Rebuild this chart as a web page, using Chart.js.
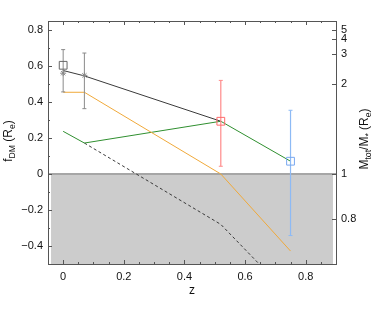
<!DOCTYPE html>
<html>
<head>
<meta charset="utf-8">
<script src="https://cdn.jsdelivr.net/npm/chart.js@4.4.1/dist/chart.umd.min.js"></script>
<style>
  body { margin: 0; background: #fff; }
  canvas { display: block; }
</style>
</head>
<body>
<canvas id="chart" width="374" height="318"></canvas>
<script>
// model tracks, f_DM(Re) against redshift
const zMain = [0, 0.07, 0.52, 0.75];
const fdmBlack = [0.575, 0.545, 0.293];
const fdmOrange = [0.454, 0.454, 0.0, -0.428];
const fdmGreen = [0.237, 0.172, 0.293, 0.071];
const zDashed = [0.07, 0.52, 0.75];
const fdmDashed = [0.172, -0.28, -0.68];

// low-z measurements (stars + grey error bars)
const zObs = [0, 0.07];
const fdmStar = [0.56, 0.548];
const obsLow = [0.456, 0.363];
const obsHigh = [0.691, 0.672];

// open squares and their error bars
const zSquare = [0, 0.52, 0.75];
const fdmSquare = [0.604, 0.293, 0.071];
const squareColors = ['#666666', '#ff6b6b', '#78a8f0'];
const zErr = [0.52, 0.75];
const errLow = [0.043, -0.342];
const errHigh = [0.52, 0.354];
const errColors = ['#ff8a8a', '#8dbaf5'];

// shaded f_DM < 0 band
const shadeZ = [-0.04, 0.89];

const xTicks = [0, 0.2, 0.4, 0.6, 0.8];
const yTicks = [-0.4, -0.2, 0, 0.2, 0.4, 0.6, 0.8];
const ratioTicks = [0.8, 1, 2, 3, 4, 5];

const FAMILY = '"Liberation Sans", Arial, sans-serif';
const pts = (xs, ys) => xs.map((x, i) => ({ x: x, y: ys[i] }));
const fmt = v => (Math.abs(v) < 1e-9 ? '0' : v.toFixed(1).replace('-', '\u2212'));

const datasets = [];

zSquare.forEach((z, i) => {
  datasets.push({
    data: [{ x: z, y: fdmSquare[i] }],
    pointStyle: 'rect', pointRadius: 5.5, pointBorderWidth: 1,
    pointBorderColor: squareColors[i], pointBackgroundColor: 'rgba(0,0,0,0)',
    order: 1
  });
});

datasets.push({
  data: pts(zObs, fdmStar),
  pointStyle: 'star', pointRadius: 3, pointBorderWidth: 1,
  pointBorderColor: '#888', order: 1
});

zObs.forEach((z, i) => {
  datasets.push({
    data: [{ x: z, y: obsLow[i] }, { x: z, y: obsHigh[i] }],
    showLine: true, borderColor: '#8a8a8a', borderWidth: 1,
    pointStyle: 'line', pointRadius: 2, pointBorderColor: '#8a8a8a', pointBorderWidth: 1,
    order: 2
  });
});

zErr.forEach((z, i) => {
  datasets.push({
    data: [{ x: z, y: errLow[i] }, { x: z, y: errHigh[i] }],
    showLine: true, borderColor: errColors[i], borderWidth: 1.2,
    pointStyle: 'line', pointRadius: 2, pointBorderColor: errColors[i], pointBorderWidth: 1,
    order: 2
  });
});

datasets.push({
  data: pts(zMain.slice(0, 3), fdmBlack),
  showLine: true, borderColor: '#3a3a3a', borderWidth: 1, pointRadius: 0, order: 3
});
datasets.push({
  data: pts(zMain, fdmOrange),
  showLine: true, borderColor: '#f0a93a', borderWidth: 1, pointRadius: 0, order: 4
});
datasets.push({
  data: pts(zMain, fdmGreen),
  showLine: true, borderColor: '#2f8f2f', borderWidth: 1, pointRadius: 0, order: 4
});
datasets.push({
  data: pts(zDashed, fdmDashed),
  showLine: true, borderColor: '#3a3a3a', borderWidth: 1, borderDash: [3, 2.5],
  pointRadius: 0, order: 5
});

// zero line and grey region below it
datasets.push({
  data: pts([-0.05, 0.9], [0, 0]),
  showLine: true, borderColor: '#a6a6a6', borderWidth: 2, pointRadius: 0, order: 90
});
datasets.push({
  data: pts(shadeZ, [0, 0]),
  showLine: true, borderWidth: 0, pointRadius: 0,
  fill: 'start', backgroundColor: '#cccccc', order: 100
});

function drawParts(ctx, parts, size) {
  let total = 0;
  parts.forEach(p => {
    ctx.font = (p.sub ? size * 0.72 : size) + 'px ' + FAMILY;
    p.w = ctx.measureText(p.t).width;
    total += p.w;
  });
  let x = -total / 2;
  parts.forEach(p => {
    ctx.font = (p.sub ? size * 0.72 : size) + 'px ' + FAMILY;
    ctx.fillText(p.t, x, p.sub ? 3 : 0);
    x += p.w;
  });
}

const framePlugin = {
  id: 'frame',
  afterDatasetsDraw(chart) {
    const { ctx, chartArea: a, scales: { x, y } } = chart;
    ctx.save();
    ctx.strokeStyle = '#555';
    ctx.lineWidth = 1;
    ctx.strokeRect(a.left + 0.5, a.top + 0.5, a.right - a.left, a.bottom - a.top);
    ctx.beginPath();
    for (let k = -1; k <= 18; k++) {
      const px = Math.round(x.getPixelForValue(k * 0.05)) + 0.5;
      if (px < a.left || px > a.right) continue;
      const len = k % 4 === 0 ? 4 : 2;
      ctx.moveTo(px, a.bottom); ctx.lineTo(px, a.bottom - len);
      ctx.moveTo(px, a.top); ctx.lineTo(px, a.top + len);
    }
    for (let k = -5; k <= 8; k++) {
      const py = Math.round(y.getPixelForValue(k * 0.1)) + 0.5;
      const len = k % 2 === 0 ? 4 : 2;
      ctx.moveTo(a.left, py); ctx.lineTo(a.left + len, py);
    }
    ratioTicks.forEach(r => {
      const py = Math.round(y.getPixelForValue(1 - 1 / r)) + 0.5;
      ctx.moveTo(a.right, py); ctx.lineTo(a.right - 4, py);
    });
    ctx.stroke();
    ctx.restore();
  },
  afterDraw(chart) {
    const ctx = chart.ctx;
    ctx.save();
    ctx.fillStyle = '#111';
    ctx.textBaseline = 'alphabetic';
    ctx.textAlign = 'left';

    ctx.save();
    ctx.translate(12, 141);
    ctx.rotate(-Math.PI / 2);
    drawParts(ctx, [{ t: 'f' }, { t: 'DM', sub: true }, { t: ' (R' }, { t: 'e', sub: true }, { t: ')' }], 12);
    ctx.restore();

    ctx.save();
    ctx.translate(368, 139);
    ctx.rotate(-Math.PI / 2);
    drawParts(ctx, [{ t: 'M' }, { t: 'tot', sub: true }, { t: '/M' }, { t: '*', sub: true },
      { t: ' (R' }, { t: 'e', sub: true }, { t: ')' }], 12);
    ctx.restore();

    ctx.font = '12px ' + FAMILY;
    ctx.textAlign = 'center';
    const a = chart.chartArea;
    ctx.fillText('z', (a.left + a.right) / 2, 294);
    ctx.restore();
  }
};

const tickFont = { family: FAMILY, size: 11 };

new Chart(document.getElementById('chart').getContext('2d'), {
  type: 'scatter',
  data: { datasets: datasets },
  options: {
    responsive: false,
    animation: false,
    layout: { padding: { top: 21, left: 0, right: 0, bottom: 0 } },
    plugins: { legend: { display: false }, tooltip: { enabled: false } },
    scales: {
      x: {
        type: 'linear', min: -0.05, max: 0.9,
        afterBuildTicks: s => { s.ticks = xTicks.map(v => ({ value: v })); },
        afterFit: s => { s.height = 54; },
        ticks: { callback: v => fmt(v), font: tickFont, color: '#111', padding: 6, maxRotation: 0, autoSkip: false },
        grid: { display: false, drawTicks: false },
        border: { display: false }
      },
      y: {
        type: 'linear', position: 'left', min: -0.5, max: 0.85,
        afterBuildTicks: s => { s.ticks = yTicks.map(v => ({ value: v })); },
        afterFit: s => { s.width = 48; },
        ticks: { callback: v => fmt(v), font: tickFont, color: '#111', padding: 5, autoSkip: false },
        grid: { display: false, drawTicks: false },
        border: { display: false }
      },
      y2: {
        type: 'linear', position: 'right', min: -0.5, max: 0.85,
        afterBuildTicks: s => { s.ticks = ratioTicks.map(r => ({ value: 1 - 1 / r })); },
        afterFit: s => { s.width = 38; },
        ticks: { callback: (v, i) => String(ratioTicks[i]), font: tickFont, color: '#111', padding: 5, autoSkip: false },
        grid: { display: false, drawTicks: false },
        border: { display: false }
      }
    }
  },
  plugins: [framePlugin]
});
</script>
</body>
</html>
